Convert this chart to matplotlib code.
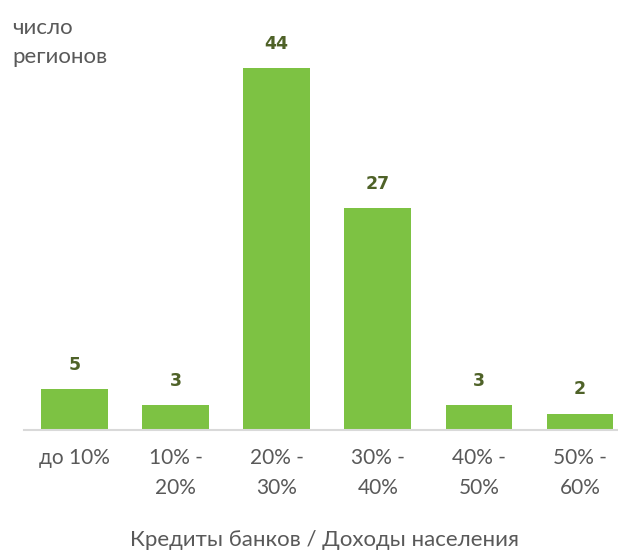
import matplotlib
matplotlib.use("Agg")
import matplotlib.pyplot as plt

plt.rcParams['font.family'] = ['Lato', 'DejaVu Sans']

categories = ["до 10%", "10% -\n20%", "20% -\n30%", "30% -\n40%", "40% -\n50%", "50% -\n60%"]
values = [5, 3, 44, 27, 3, 2]

W, H = 618, 551
fig = plt.figure(figsize=(W / 100, H / 100), dpi=100)
left_px, right_px = 24, 630.5
bottom_px, top_px = 430, 0
ax = fig.add_axes([left_px / W, 1 - bottom_px / H, (right_px - left_px) / W, (bottom_px - top_px) / H])

x = list(range(len(categories)))
ax.bar(x, values, width=0.66, color="#7DC243", zorder=2)
ax.set_xlim(-0.5, len(categories) - 0.5)
ax.set_ylim(0, 430 / 8.227)

for xi, v in zip(x, values):
    ax.annotate(str(v), (xi, v), xytext=(0, 11), textcoords="offset points",
                ha="center", va="bottom", fontsize=12.5, fontweight="bold", color="#4F6228",
                family="DejaVu Sans")

for s in ["top", "right", "left"]:
    ax.spines[s].set_visible(False)
ax.spines["bottom"].set_color("#D9D9D9")
ax.spines["bottom"].set_linewidth(1.5)
ax.set_yticks([])
ax.set_xticks(x)
ax.set_xticklabels(categories, fontsize=15, color="#595959", linespacing=1.6, va="top")
ax.tick_params(axis="x", length=0, pad=13)

fig.text(324 / W, 1 - 540 / H, "Кредиты банков / Доходы населения", ha="center", va="center",
         fontsize=16, color="#595959")
fig.text(12 / W, 1 - 18 / H, "число\nрегионов", ha="left", va="top", fontsize=16,
         color="#595959", linespacing=1.55)

fig.savefig("out.png", dpi=100)
